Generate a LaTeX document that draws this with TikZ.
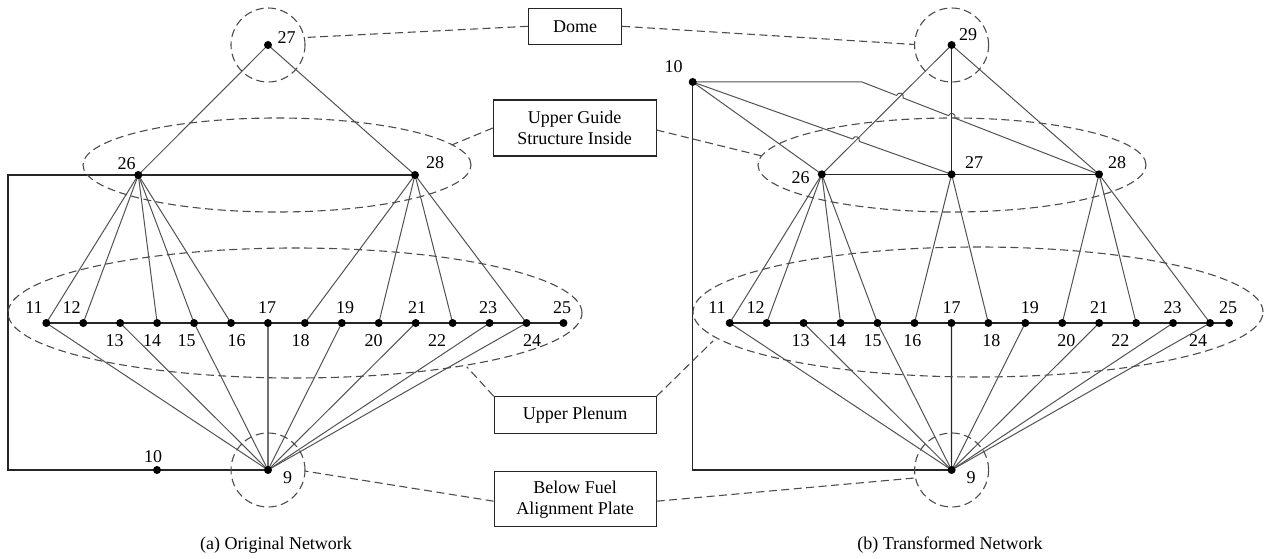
\documentclass[tikz,border=0pt]{standalone}
\usepackage{fontspec}
\setmainfont{Liberation Serif}
\usetikzlibrary{calc,shapes.geometric}
\pgfdeclarelayer{bg}
\pgfsetlayers{bg,main}
\tikzset{
  vtx/.style={circle,fill=black,inner sep=0pt,minimum size=8pt},
  lab/.style={inner sep=0pt,font=\fontsize{18}{21}\selectfont},
  fan/.style={draw=black!68,line width=1pt},
  strong/.style={draw=black!85,line width=1.2pt},
  zone/.style={draw=black!70,line width=1.1pt,dash pattern=on 8pt off 4.5pt},
  region/.style={zone,inner sep=0pt},
  box/.style={draw=black!85,line width=1.1pt,inner sep=0pt,align=center,font=\fontsize{18}{21}\selectfont},
  hop/.style={bend left=90,looseness=1.7},
}
\begin{document}
\begin{tikzpicture}[x=1pt,y=-1pt]
\useasboundingbox (0,0) rectangle (1264,559);

% ---------------- regions ----------------
\node[region,circle,minimum size=74pt] (LC27) at (268,45) {};
\node[region,circle,minimum size=74pt] (LC9) at (268,470) {};
\node[region,ellipse,minimum width=388pt,minimum height=94pt] (LUG) at (277,165) {};
\node[region,ellipse,minimum width=574pt,minimum height=130pt] (LUP) at (295,313) {};
\node[region,circle,minimum size=74pt] (RC29) at (951.6,45) {};
\node[region,circle,minimum size=74pt] (RC9) at (951.6,470) {};
\node[region,ellipse,minimum width=388pt,minimum height=94pt] (RUG) at (952,165) {};
\node[region,ellipse,minimum width=570pt,minimum height=130pt] (RUP) at (978,312) {};

% ---------------- boxes ----------------
\node[box,minimum width=93pt,minimum height=36pt] (Dome) at (575,26.3) {Dome};
\node[box,minimum width=162.7pt,minimum height=56pt] (UG) at (574.7,128) {Upper Guide\\Structure Inside};
\node[box,minimum width=162pt,minimum height=36.6pt] (UP) at (575.2,415) {Upper Plenum};
\node[box,minimum width=162pt,minimum height=55pt] (BF) at (575.2,499.2) {Below Fuel\\Alignment Plate};

% ---------------- left network nodes ----------------
\foreach \i in {11,...,25} \node[vtx] (L\i) at ({46.3+(\i-11)*36.94},323) {};
\node[vtx] (L9) at (268,470) {};
\node[vtx] (L10) at (157,470) {};
\node[vtx] (L26) at (138.3,175) {};
\node[vtx] (L27) at (268,45) {};
\node[vtx] (L28) at (415,175) {};
\coordinate (Lk1) at (8,175);
\coordinate (Lk2) at (8,470);

% ---------------- right network nodes ----------------
\foreach \i in {11,...,24} \node[vtx] (R\i) at ({729.7+(\i-11)*36.95},323) {};
\node[vtx] (R25) at (1229,323) {};
\node[vtx] (R9) at (951.6,470) {};
\node[vtx] (R10) at (692.7,82) {};
\node[vtx] (R26) at (821.8,174.3) {};
\node[vtx] (R27) at (951.6,174.3) {};
\node[vtx] (R28) at (1099,174.3) {};
\node[vtx] (R29) at (951.6,45) {};
\coordinate (Rk1) at (692.7,470);
\coordinate (Rk2) at (862,82);

% ---------------- edges ----------------
\begin{pgfonlayer}{bg}
% left
\draw[strong] (L11.center) -- (L25.center);
\draw[strong] (L26.center) -- (L28.center);
\draw[strong] (L26.center) -- (Lk1) -- (Lk2) -- (L10.center) -- (L9.center);
\draw[fan] (L27.center) -- (L26.center);
\draw[fan] (L27.center) -- (L28.center);
\foreach \j in {11,12,14,15,16} \draw[fan] (L26.center) -- (L\j.center);
\foreach \j in {18,20,22,24} \draw[fan] (L28.center) -- (L\j.center);
\foreach \j in {11,13,15,19,21,23,24} \draw[fan] (L9.center) -- (L\j.center);
\draw[strong] (L9.center) -- (L17.center);
% right
\draw[strong] (R11.center) -- (R25.center);
\draw[strong] (R26.center) -- (R28.center);
\draw[strong] (R10.center) -- (Rk1) -- (R9.center);
\draw[fan] (R29.center) -- (R26.center);
\draw[strong] (R29.center) -- (R27.center);
\draw[fan] (R29.center) -- (R28.center);
\draw[fan] (R10.center) -- (R26.center);
\path (intersection of Rk2--R28.center and R29.center--R26.center) coordinate (I1);
\path (intersection of Rk2--R28.center and R29.center--R27.center) coordinate (I2);
\path (intersection of R10.center--R27.center and R29.center--R26.center) coordinate (I3);
\draw[fan] (R10.center) -- (Rk2) -- ($(I1)!3.5pt!(Rk2)$) to[hop] ($(I1)!3.5pt!(R28.center)$)
   -- ($(I2)!3.5pt!(Rk2)$) to[hop] ($(I2)!3.5pt!(R28.center)$) -- (R28.center);
\draw[fan] (R10.center) -- ($(I3)!3.5pt!(R10.center)$) to[hop] ($(I3)!3.5pt!(R27.center)$) -- (R27.center);
\foreach \j in {11,12,14,15} \draw[fan] (R26.center) -- (R\j.center);
\foreach \j in {16,18} \draw[fan] (R27.center) -- (R\j.center);
\foreach \j in {20,22,24} \draw[fan] (R28.center) -- (R\j.center);
\foreach \j in {11,13,15,19,21,23,24} \draw[fan] (R9.center) -- (R\j.center);
\draw[strong] (R9.center) -- (R17.center);
% region connectors
\coordinate (pD1) at (305,37.5);
\coordinate (pD2) at (914.5,44.5);
\coordinate (pU1) at (451.7,145);
\coordinate (pU2) at (762,156);
\coordinate (pP1) at (466.7,366.7);
\coordinate (pP2) at (713,341);
\coordinate (pB1) at (304.6,471);
\coordinate (pB2) at (914.5,478);
\draw[zone] (Dome.west) -- (pD1);
\draw[zone] (Dome.east) -- (pD2);
\draw[zone] (UG.west) -- (pU1);
\draw[zone] ([yshift=-2pt]UG.east) -- (pU2);
\draw[zone] (UP.north west) -- (pP1);
\draw[zone] (UP.north east) -- (pP2);
\draw[zone] ([yshift=-2pt]BF.west) -- (pB1);
\draw[zone] ([yshift=-2pt]BF.east) -- (pB2);
\end{pgfonlayer}

% ---------------- labels left ----------------
\node[lab] at (34,308) {11};
\node[lab] at (71.6,308) {12};
\node[lab] at (114.7,341) {13};
\node[lab] at (152,341) {14};
\node[lab] at (186.6,341) {15};
\node[lab] at (236.5,341) {16};
\node[lab] at (267,308) {17};
\node[lab] at (300.5,341) {18};
\node[lab] at (345,308) {19};
\node[lab] at (373.7,341) {20};
\node[lab] at (417,308) {21};
\node[lab] at (437,341) {22};
\node[lab] at (488,308) {23};
\node[lab] at (532,341) {24};
\node[lab] at (562,308) {25};
\node[lab] at (153,457) {10};
\node[lab] at (287.5,478) {9};
\node[lab] at (126.7,164) {26};
\node[lab] at (286.7,37.3) {27};
\node[lab] at (435,163) {28};
% ---------------- labels right ----------------
\node[lab] at (717,308) {11};
\node[lab] at (755.5,308) {12};
\node[lab] at (800.6,341) {13};
\node[lab] at (837,341) {14};
\node[lab] at (872.6,341) {15};
\node[lab] at (912.3,341) {16};
\node[lab] at (951.6,308) {17};
\node[lab] at (991.3,341) {18};
\node[lab] at (1029.8,308) {19};
\node[lab] at (1066.4,341) {20};
\node[lab] at (1099,308) {21};
\node[lab] at (1120.3,341) {22};
\node[lab] at (1172.5,308) {23};
\node[lab] at (1198,341) {24};
\node[lab] at (1228,308) {25};
\node[lab] at (971.2,478) {9};
\node[lab] at (673.5,66.7) {10};
\node[lab] at (800.6,178) {26};
\node[lab] at (974,163) {27};
\node[lab] at (1117,163) {28};
\node[lab] at (968,35) {29};

% ---------------- captions ----------------
\node[lab] at (276,545) {(a) Original Network};
\node[lab] at (950,545) {(b) Transformed Network};
\end{tikzpicture}
\end{document}
